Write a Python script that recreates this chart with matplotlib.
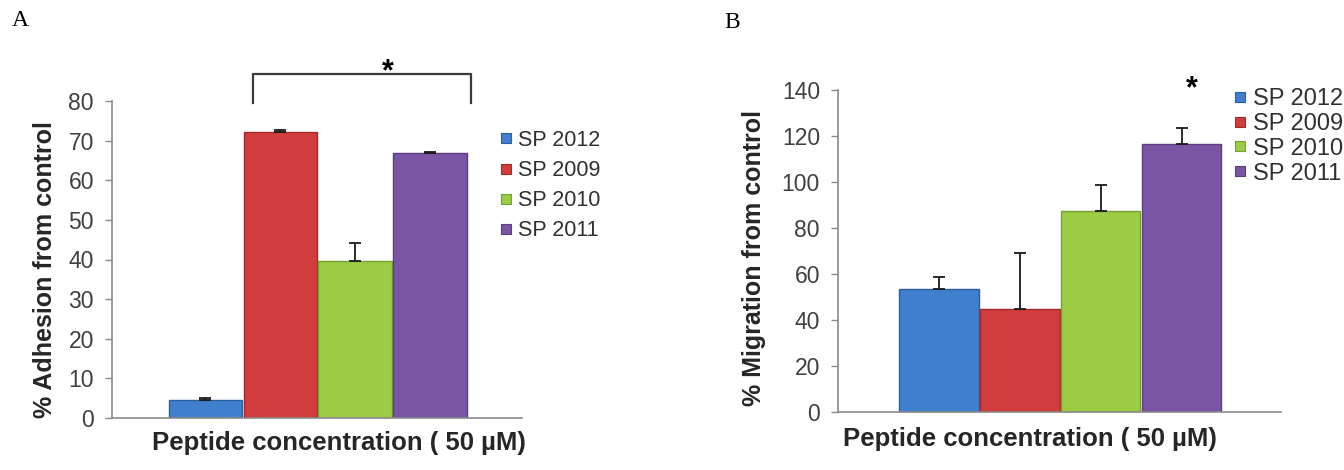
import matplotlib
matplotlib.use("Agg")
import matplotlib.pyplot as plt
from matplotlib.lines import Line2D
import numpy as np

plt.rcParams['font.family'] = ['Liberation Sans', 'DejaVu Sans']

series = ["SP 2012", "SP 2009", "SP 2010", "SP 2011"]
adhesion = [4.5, 72.2, 39.6, 66.9]
adhesion_err = [0.6, 0.5, 4.6, 0.3]
migration = [53.5, 44.8, 87.4, 116.5]
migration_err = [5.2, 24.3, 11.3, 7.0]
colors = ["#3f7fce", "#d13d3c", "#9ccb44", "#7b55a5"]
edges = ["#2c5f9e", "#a02a2a", "#76a030", "#5b3d80"]
xlabel = "Peptide concentration ( 50 µM)"

W, H = 1344, 470
fig = plt.figure(figsize=(W / 100, H / 100), dpi=100)

def px_axes(l, r, b, t):
    return fig.add_axes([l / W, 1 - b / H, (r - l) / W, (b - t) / H])

axA = px_axes(112, 522, 418, 101)
axB = px_axes(838, 1281, 412, 90)

def draw(ax, vals, errs, ymax, ystep):
    x = np.arange(len(vals))
    for i in range(len(vals)):
        ax.bar(x[i], vals[i], width=0.98, color=colors[i], edgecolor=edges[i],
               linewidth=1.0, zorder=2)
    ax.errorbar(x, vals, yerr=[np.zeros(len(errs)), errs], fmt='none',
                ecolor='#1a1a1a', elinewidth=1.3, capsize=4.5, capthick=1.3, zorder=3)
    ax.set_xlim(-1.245, 4.225)
    ax.set_ylim(0, ymax)
    ax.set_yticks(np.arange(0, ymax + 1, ystep))
    ax.set_xticks([])
    for s in ['top', 'right']:
        ax.spines[s].set_visible(False)
    for s in ['left', 'bottom']:
        ax.spines[s].set_color('#8a8a8a')
        ax.spines[s].set_linewidth(1.2)
    ax.tick_params(axis='y', direction='out', length=5, width=1, color='#8a8a8a',
                   labelsize=16.5, labelcolor='#404040', pad=8)

draw(axA, adhesion, adhesion_err, 80, 10)
draw(axB, migration, migration_err, 140, 20)

# y labels
fig.text(45 / W, 1 - 270 / H, "% Adhesion from control", rotation=90, ha='center',
         va='center', fontsize=18, fontweight='bold', color='#262626')
fig.text(754 / W, 1 - 258 / H, "% Migration from control", rotation=90, ha='center',
         va='center', fontsize=18, fontweight='bold', color='#262626')
# x labels
fig.text(339 / W, 1 - 443 / H, xlabel, ha='center', va='center', fontsize=18.5,
         fontweight='bold', color='#262626')
fig.text(1030 / W, 1 - 439 / H, xlabel, ha='center', va='center', fontsize=18.5,
         fontweight='bold', color='#262626')

# panel letters
fig.text(20 / W, 1 - 21 / H, "A", family='Liberation Serif', fontsize=17,
         ha='center', va='center')
fig.text(732 / W, 1 - 22 / H, "B", family='Liberation Serif', fontsize=17,
         ha='center', va='center')

# significance bracket (A)
bx = [0.64, 0.64, 3.55, 3.55]
by = [79.5, 86.8, 86.8, 79.5]
axA.plot(bx, by, color='#3a3a3a', lw=1.6, clip_on=False, solid_joinstyle='round')
axA.text(2.43, 87.3, "*", ha='center', va='center', fontsize=22, fontweight='bold',
         clip_on=False)
axB.text(3.12, 140.3, "*", ha='center', va='center', fontsize=22, fontweight='bold',
         clip_on=False)

# legends
def legend(ax, anchor, fs, spacing):
    handles = [Line2D([0], [0], marker='s', linestyle='none', markersize=6.5,
                      markerfacecolor=c, markeredgecolor=e, markeredgewidth=0.8)
               for c, e in zip(colors, edges)]
    leg = fig.legend(handles, series, loc='upper left', bbox_to_anchor=anchor,
                     frameon=False, fontsize=fs, handlelength=0.6, handletextpad=0.25,
                     labelspacing=spacing, borderpad=0, borderaxespad=0)
    for t in leg.get_texts():
        t.set_color('#303030')

legend(axA, (500 / W, 1 - 130 / H), 15.5, 0.42)
legend(axB, (1233 / W, 1 - 88 / H), 17, 0.12)

fig.savefig("out.png", dpi=100)
